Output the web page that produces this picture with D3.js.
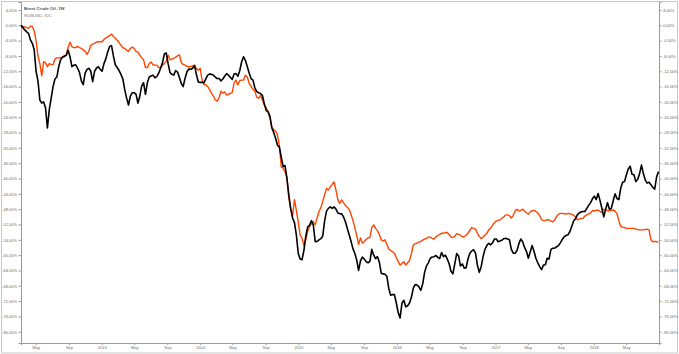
<!DOCTYPE html>
<html>
<head>
<meta charset="utf-8">
<script src="https://cdn.jsdelivr.net/npm/d3@7"></script>
<style>
  body { margin: 0; background: #fff; }
  svg { display: block; font-family: "Liberation Sans", Arial, sans-serif; }
</style>
</head>
<body>
<script>
// Size of the svg
var w = 679;
var h = 354;

// First weekly bar, both series are % change from this week
var startDate = new Date(2012, 2, 7);
var endDate = new Date(2018, 7, 31);

// Brent Crude Oil, weekly % change
var brent = [
  0.0, -0.6, -1.2, -1.7, -2.1, -3.8, -4.7, -6.4, -12.0, -14.5,
  -19.5, -20.3, -20.0, -21.5, -26.8, -22.0, -19.0, -16.0, -14.0, -13.5,
  -10.8, -9.0, -8.3, -8.0, -7.9, -6.5, -8.2, -10.8, -10.4, -10.3,
  -11.2, -12.3, -14.5, -15.5, -12.5, -11.5, -11.2, -12.0, -14.7, -12.0,
  -11.2, -10.8, -11.5, -12.0, -10.0, -8.7, -6.9, -5.5, -5.3, -8.0,
  -10.3, -11.0, -11.8, -12.8, -14.0, -16.8, -19.0, -20.8, -18.5, -17.6,
  -17.6, -18.0, -20.3, -18.5, -15.8, -15.0, -18.0, -15.0, -13.5, -13.2,
  -13.0, -13.7, -13.4, -12.5, -11.2, -9.8, -7.5, -7.2, -10.0, -12.3,
  -12.8, -13.0, -11.8, -12.2, -13.6, -15.2, -16.0, -13.8, -12.1, -11.4,
  -11.5, -11.2, -10.5, -12.8, -14.8, -14.9, -14.9, -15.0, -14.0, -13.0,
  -12.7, -12.8, -13.0, -13.5, -13.9, -13.9, -14.5, -14.0, -13.3, -12.6,
  -13.0, -13.6, -14.1, -12.7, -12.6, -13.3, -11.8, -9.5, -8.2, -9.2,
  -10.8, -12.5, -13.9, -14.3, -16.3, -17.3, -17.6, -17.8, -18.3, -20.5,
  -22.2, -22.6, -23.7, -26.8, -28.0, -29.5, -31.3, -31.8, -34.4, -36.9,
  -36.6, -40.0, -44.3, -47.8, -50.3, -51.5, -54.7, -59.5, -61.0, -61.2,
  -58.8, -55.0, -52.6, -52.2, -51.0, -52.2, -56.5, -56.4, -56.0, -55.7,
  -55.0, -51.0, -48.5, -47.8, -47.4, -47.8, -47.4, -48.0, -49.0, -49.2,
  -49.2, -50.0, -51.3, -53.0, -54.7, -56.4, -58.3, -59.5, -61.3, -64.0,
  -61.5, -60.5, -61.0, -61.7, -62.0, -61.6, -58.5, -60.0, -60.9, -60.4,
  -61.8, -64.7, -64.9, -65.0, -65.5, -68.7, -70.5, -70.3, -70.3, -72.5,
  -75.0, -76.4, -72.5, -71.8, -73.5, -73.2, -72.5, -71.0, -68.6, -67.7,
  -67.8, -68.3, -69.2, -67.5, -64.5, -62.8, -62.0, -60.8, -60.5, -60.4,
  -60.1, -60.6, -60.9, -59.3, -60.4, -60.0, -61.0, -62.2, -64.2, -64.9,
  -62.3, -59.6, -60.2, -62.8, -62.3, -63.4, -63.3, -61.0, -59.5, -58.9,
  -58.6, -59.5, -62.6, -64.5, -63.0, -60.4, -58.5, -57.5, -56.9, -57.3,
  -56.8, -55.8, -55.8, -56.5, -56.3, -56.1, -55.7, -55.6, -55.8, -56.0,
  -58.5, -59.5, -59.5, -58.8, -57.0, -55.8, -56.5, -58.0, -59.0, -60.8,
  -59.2, -57.5, -59.0, -60.8, -62.0, -63.0, -63.8, -62.6, -62.5, -60.8,
  -61.0, -58.5, -58.2, -58.2, -57.8, -57.5, -56.8, -55.9, -55.2, -54.9,
  -54.7, -53.9, -52.5, -51.1, -50.5, -49.5, -49.0, -48.7, -48.6, -48.6,
  -47.8, -47.0, -46.3, -45.3, -44.6, -45.5, -43.9, -45.7, -47.8, -50.0,
  -48.0, -46.3, -48.0, -47.8, -45.8, -44.0, -45.2, -45.5, -42.5, -41.0,
  -40.8, -39.0, -37.5, -36.8, -38.9, -39.0, -40.8, -40.2, -38.7, -36.5,
  -38.7, -40.4, -41.2, -41.0, -41.6, -42.3, -42.8, -39.6, -38.2
];

// RUBUSD, weekly % change
var rub = [
  0.0, -0.3, -0.4, -0.6, -0.8, -0.2, -0.3, -1.5, -4.0, -8.0,
  -10.0, -13.2, -9.5, -9.8, -10.8, -10.0, -10.2, -10.3, -8.8, -8.5,
  -8.5, -8.4, -8.4, -8.2, -7.5, -5.8, -4.4, -5.6, -5.8, -5.8,
  -5.5, -5.8, -6.0, -6.4, -6.8, -7.6, -6.7, -5.2, -4.9, -4.7,
  -4.4, -4.3, -4.3, -4.3, -3.7, -3.3, -3.0, -2.7, -2.3, -2.9,
  -3.4, -3.9, -4.5, -5.2, -5.9, -6.0, -6.5, -6.8, -6.0, -5.7,
  -6.0, -6.8, -7.0, -7.8, -8.5, -9.0, -11.0, -11.0, -10.0, -9.6,
  -10.3, -10.4, -10.4, -11.0, -11.2, -10.4, -10.0, -9.4, -7.8, -9.0,
  -8.8, -8.6, -8.3, -8.0, -7.7, -9.7, -10.2, -10.4, -10.7, -10.8,
  -10.8, -10.6, -10.4, -11.3, -11.7, -11.2, -14.3, -15.5, -15.5, -16.0,
  -16.8, -17.7, -18.5, -19.5, -19.8, -18.9, -17.2, -17.7, -17.4, -18.2,
  -18.0, -17.8, -17.5, -15.0, -14.3, -15.6, -14.4, -14.3, -14.3, -13.0,
  -13.5, -15.2, -15.9, -16.7, -17.2, -18.8, -19.0, -18.3, -19.5, -20.8,
  -21.5, -22.5, -24.3, -26.5, -27.3, -27.6, -28.6, -31.5, -37.0, -37.3,
  -38.3, -39.6, -45.0, -48.0, -49.8, -45.5, -48.3, -51.3, -54.7, -55.6,
  -57.5, -56.0, -53.7, -52.5, -51.8, -51.3, -52.1, -50.3, -48.6, -47.6,
  -46.0, -44.2, -42.6, -43.0, -42.2, -41.5, -40.9, -43.0, -45.5, -46.5,
  -45.6, -46.3, -47.0, -47.5, -48.0, -49.4, -50.9, -52.8, -54.9, -57.2,
  -55.5, -56.9, -56.5, -55.9, -55.5, -55.4, -52.8, -52.1, -53.0, -53.6,
  -54.6, -56.0, -56.3, -56.0, -57.2, -58.4, -58.8, -59.1, -59.5, -60.6,
  -61.7, -62.6, -62.2, -61.7, -62.6, -62.0, -61.4, -59.6, -57.4, -57.0,
  -56.9, -56.6, -56.4, -56.1, -55.8, -55.6, -55.3, -55.3, -55.6, -55.8,
  -55.2, -54.9, -54.6, -54.3, -54.3, -54.1, -54.1, -54.6, -55.3, -55.4,
  -55.1, -54.4, -54.6, -54.8, -55.2, -55.2, -54.8, -54.3, -53.5, -52.8,
  -53.0, -53.2, -54.3, -55.1, -55.7, -55.3, -54.8, -54.3, -53.4, -53.0,
  -52.2, -51.6, -51.1, -50.9, -50.8, -50.3, -50.0, -49.5, -49.5, -49.7,
  -50.3, -49.6, -48.5, -48.0, -48.4, -48.3, -48.0, -48.5, -49.0, -49.3,
  -48.7, -48.4, -48.3, -48.6, -49.0, -49.7, -50.7, -51.0, -51.0, -50.7,
  -50.8, -51.1, -51.3, -50.8, -49.9, -49.3, -49.1, -49.1, -49.2, -49.3,
  -49.1, -49.2, -49.3, -49.6, -50.0, -50.8, -50.6, -50.4, -50.4, -49.8,
  -49.5, -49.2, -49.0, -48.4, -48.4, -48.3, -48.2, -48.6, -48.9, -48.0,
  -48.2, -48.4, -48.4, -48.3, -48.2, -48.5, -49.2, -51.0, -52.5, -52.7,
  -52.8, -53.0, -53.0, -53.0, -53.0, -53.0, -53.2, -53.3, -53.4, -53.4,
  -53.4, -53.3, -53.2, -53.4, -56.0, -56.5, -56.4, -56.5, -56.6
];

// Tick values on both y axes
var yTicks = [4, 0, -4, -8, -12, -16, -20, -24, -28, -32, -36, -40, -44, -48, -52, -56, -60, -64, -68, -72, -76, -80];

// Legend texts
var titles = ["Brent Crude Oil, 1W", "RUBUSD, IDC"];

// plot box (note: "top" is taken by window.top, so plot* names)
var plotLeft = 21, plotRight = 659, plotTop = 2, plotBottom = 343;

var svg = d3.select("body")
    .append("svg")
    .attr("width", w)
    .attr("height", h);

// outer frame
svg.append("rect")
    .attr("x", 1.5).attr("y", 1.5)
    .attr("width", w - 3).attr("height", h - 2.5)
    .attr("fill", "none")
    .attr("stroke", "#c8c8c8");

var x = d3.scaleTime()
    .domain([startDate, endDate])
    .range([plotLeft, plotRight]);

var y = d3.scaleLinear()
    .domain([6.09, -82.94])
    .range([plotTop, plotBottom]);

function weekDate(i) { return d3.timeDay.offset(startDate, 7 * i); }

// Axes
var fmtPct = function(d) { return d.toFixed(2) + "%"; };
var fmtDate = function(d) {
    return d.getMonth() === 0 ? d3.timeFormat("%Y")(d) : d3.timeFormat("%b")(d);
};

var gLeft = svg.append("g")
    .attr("transform", "translate(" + plotLeft + ",0)")
    .call(d3.axisLeft(y).tickValues(yTicks).tickFormat(fmtPct).tickSize(2.5).tickPadding(1.5));

var gRight = svg.append("g")
    .attr("transform", "translate(" + plotRight + ",0)")
    .call(d3.axisRight(y).tickValues(yTicks).tickFormat(fmtPct).tickSize(2.5).tickPadding(1.5));

var gBottom = svg.append("g")
    .attr("transform", "translate(0," + plotBottom + ")")
    .call(d3.axisBottom(x).ticks(d3.timeMonth.every(4)).tickFormat(fmtDate).tickSize(2).tickPadding(1.5));

[gLeft, gRight, gBottom].forEach(function(g) {
    g.select(".domain").attr("stroke", "#9a9a9a").attr("stroke-width", 1);
    g.selectAll(".tick line").attr("stroke", "#9a9a9a");
    g.selectAll(".tick text")
        .attr("fill", "#6a6a6a")
        .attr("font-size", "4px")
        .attr("font-family", "Liberation Sans, Arial, sans-serif");
});

// Lines
var line = d3.line()
    .x(function(d, i) { return x(weekDate(i)); })
    .y(function(d) { return y(d); });

svg.append("path")
    .datum(rub)
    .attr("d", line)
    .attr("fill", "none")
    .attr("stroke", "#ff4500")
    .attr("stroke-width", 1.4)
    .attr("stroke-linejoin", "round");

svg.append("path")
    .datum(brent)
    .attr("d", line)
    .attr("fill", "none")
    .attr("stroke", "#000")
    .attr("stroke-width", 1.6)
    .attr("stroke-linejoin", "round");

// Title / legend text
svg.append("text")
    .attr("x", 24).attr("y", 9.5)
    .attr("font-size", "4.3px")
    .attr("font-weight", "bold")
    .attr("fill", "#555")
    .text(titles[0]);

svg.append("text")
    .attr("x", 24).attr("y", 16.5)
    .attr("font-size", "4.3px")
    .attr("fill", "#777")
    .text(titles[1]);
</script>
</body>
</html>
